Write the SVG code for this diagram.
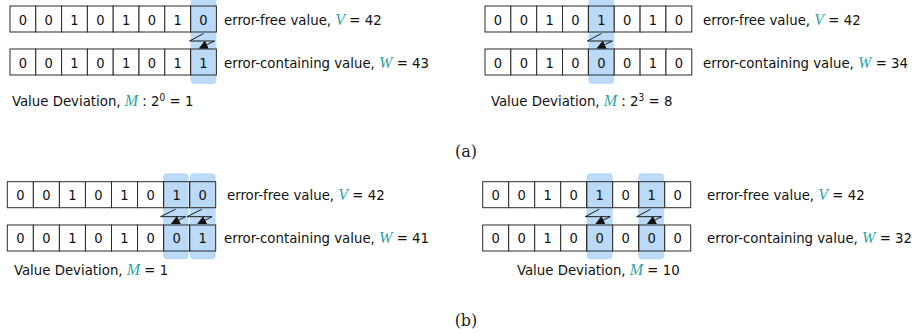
<svg xmlns="http://www.w3.org/2000/svg" width="922" height="334" viewBox="0 0 922 334">
<style>
.cell{fill:#fff;stroke:#2b2b2b;stroke-width:1}
.on{fill:none}
.hl{fill:#bbdaf7;stroke:none}
.d{font-family:"DejaVu Sans Condensed","DejaVu Sans",sans-serif;font-size:14.5px;fill:#111;text-anchor:middle}
.t{font-family:"DejaVu Sans Condensed","DejaVu Sans",sans-serif;font-size:14.8px;fill:#111}
.v{font-family:"Liberation Serif",serif;font-style:italic;font-size:16px;fill:#2fa4a4}
.cap{font-family:"DejaVu Serif",serif;font-size:16px;fill:#222;text-anchor:middle}
.z{fill:none;stroke:#1a1a1a;stroke-width:1;marker-end:url(#ah)}
</style>
<defs>
<marker id="ah" viewBox="0 0 10 10" refX="9" refY="5" markerWidth="9" markerHeight="9" markerUnits="userSpaceOnUse" orient="auto">
<path d="M0,0 L10,5 L0,10 z" fill="#111"/>
</marker>
</defs>

<!-- highlights (behind cells) -->
<rect id="a-left-hl" class="hl" x="190.6" y="-4" width="25.8" height="88" rx="4"/>
<rect id="a-right-hl" class="hl" x="588.4" y="-4" width="25.85" height="88" rx="4"/>
<rect id="b-left-hl1" class="hl" x="163.1" y="173.3" width="25.5" height="86" rx="4"/>
<rect id="b-left-hl2" class="hl" x="189.9" y="173.3" width="25.8" height="86" rx="4"/>
<rect id="b-right-hl1" class="hl" x="586.7" y="173.3" width="26" height="86" rx="4"/>
<rect id="b-right-hl2" class="hl" x="638.2" y="173.3" width="26" height="86" rx="4"/>

<!-- (a) left -->
<g id="a-left-free">
<rect class="cell" x="10" y="6" width="25.8" height="26"/><rect class="cell" x="35.8" y="6" width="25.8" height="26"/><rect class="cell" x="61.6" y="6" width="25.8" height="26"/><rect class="cell" x="87.4" y="6" width="25.8" height="26"/><rect class="cell" x="113.2" y="6" width="25.8" height="26"/><rect class="cell" x="139" y="6" width="25.8" height="26"/><rect class="cell" x="164.8" y="6" width="25.8" height="26"/><rect class="cell on" x="190.6" y="6" width="25.8" height="26"/>
<text class="d" y="24.5"><tspan x="22.9">0</tspan><tspan x="48.7">0</tspan><tspan x="74.5">1</tspan><tspan x="100.3">0</tspan><tspan x="126.1">1</tspan><tspan x="151.9">0</tspan><tspan x="177.7">1</tspan><tspan x="203.5">0</tspan></text>
<text class="t" x="224" y="24.5">error-free value, <tspan class="v">V</tspan> = 42</text>
</g>
<g id="a-left-err">
<rect class="cell" x="10" y="49" width="25.8" height="26"/><rect class="cell" x="35.8" y="49" width="25.8" height="26"/><rect class="cell" x="61.6" y="49" width="25.8" height="26"/><rect class="cell" x="87.4" y="49" width="25.8" height="26"/><rect class="cell" x="113.2" y="49" width="25.8" height="26"/><rect class="cell" x="139" y="49" width="25.8" height="26"/><rect class="cell" x="164.8" y="49" width="25.8" height="26"/><rect class="cell on" x="190.6" y="49" width="25.8" height="26"/>
<text class="d" y="67.5"><tspan x="22.9">0</tspan><tspan x="48.7">0</tspan><tspan x="74.5">1</tspan><tspan x="100.3">0</tspan><tspan x="126.1">1</tspan><tspan x="151.9">0</tspan><tspan x="177.7">1</tspan><tspan x="203.5">1</tspan></text>
<text class="t" x="224" y="67.5">error-containing value, <tspan class="v">W</tspan> = 43</text>
</g>
<text id="a-left-dev" class="t" x="12" y="106">Value Deviation, <tspan class="v">M</tspan> : 2<tspan font-size="10" dy="-5">0</tspan><tspan dy="5"> = 1</tspan></text>

<!-- (a) right -->
<g id="a-right-free">
<rect class="cell" x="485" y="6" width="25.85" height="26"/><rect class="cell" x="510.85" y="6" width="25.85" height="26"/><rect class="cell" x="536.7" y="6" width="25.85" height="26"/><rect class="cell" x="562.55" y="6" width="25.85" height="26"/><rect class="cell on" x="588.4" y="6" width="25.85" height="26"/><rect class="cell" x="614.25" y="6" width="25.85" height="26"/><rect class="cell" x="640.1" y="6" width="25.85" height="26"/><rect class="cell" x="665.95" y="6" width="25.85" height="26"/>
<text class="d" y="24.5"><tspan x="497.9">0</tspan><tspan x="523.8">0</tspan><tspan x="549.6">1</tspan><tspan x="575.5">0</tspan><tspan x="601.3">1</tspan><tspan x="627.2">0</tspan><tspan x="653">1</tspan><tspan x="678.9">0</tspan></text>
<text class="t" x="703" y="24.5">error-free value, <tspan class="v">V</tspan> = 42</text>
</g>
<g id="a-right-err">
<rect class="cell" x="485" y="49" width="25.85" height="26"/><rect class="cell" x="510.85" y="49" width="25.85" height="26"/><rect class="cell" x="536.7" y="49" width="25.85" height="26"/><rect class="cell" x="562.55" y="49" width="25.85" height="26"/><rect class="cell on" x="588.4" y="49" width="25.85" height="26"/><rect class="cell" x="614.25" y="49" width="25.85" height="26"/><rect class="cell" x="640.1" y="49" width="25.85" height="26"/><rect class="cell" x="665.95" y="49" width="25.85" height="26"/>
<text class="d" y="67.5"><tspan x="497.9">0</tspan><tspan x="523.8">0</tspan><tspan x="549.6">1</tspan><tspan x="575.5">0</tspan><tspan x="601.3">0</tspan><tspan x="627.2">0</tspan><tspan x="653">1</tspan><tspan x="678.9">0</tspan></text>
<text class="t" x="703" y="67.5">error-containing value, <tspan class="v">W</tspan> = 34</text>
</g>
<text id="a-right-dev" class="t" x="491" y="106">Value Deviation, <tspan class="v">M</tspan> : 2<tspan font-size="10" dy="-5">3</tspan><tspan dy="5"> = 8</tspan></text>

<text id="cap-a" class="cap" x="466" y="157">(a)</text>

<!-- (b) left -->
<g id="b-left-free">
<rect class="cell" x="7.3" y="181.7" width="26.05" height="26"/><rect class="cell" x="33.35" y="181.7" width="26.05" height="26"/><rect class="cell" x="59.4" y="181.7" width="26.05" height="26"/><rect class="cell" x="85.45" y="181.7" width="26.05" height="26"/><rect class="cell" x="111.5" y="181.7" width="26.05" height="26"/><rect class="cell" x="137.55" y="181.7" width="26.05" height="26"/><rect class="cell on" x="163.6" y="181.7" width="26.05" height="26"/><rect class="cell on" x="189.65" y="181.7" width="26.05" height="26"/>
<text class="d" y="200"><tspan x="20.3">0</tspan><tspan x="46.4">0</tspan><tspan x="72.4">1</tspan><tspan x="98.5">0</tspan><tspan x="124.5">1</tspan><tspan x="150.6">0</tspan><tspan x="176.6">1</tspan><tspan x="202.7">0</tspan></text>
<text class="t" x="227" y="200">error-free value, <tspan class="v">V</tspan> = 42</text>
</g>
<g id="b-left-err">
<rect class="cell" x="7.3" y="225" width="26.05" height="26"/><rect class="cell" x="33.35" y="225" width="26.05" height="26"/><rect class="cell" x="59.4" y="225" width="26.05" height="26"/><rect class="cell" x="85.45" y="225" width="26.05" height="26"/><rect class="cell" x="111.5" y="225" width="26.05" height="26"/><rect class="cell" x="137.55" y="225" width="26.05" height="26"/><rect class="cell on" x="163.6" y="225" width="26.05" height="26"/><rect class="cell on" x="189.65" y="225" width="26.05" height="26"/>
<text class="d" y="243.3"><tspan x="20.3">0</tspan><tspan x="46.4">0</tspan><tspan x="72.4">1</tspan><tspan x="98.5">0</tspan><tspan x="124.5">1</tspan><tspan x="150.6">0</tspan><tspan x="176.6">0</tspan><tspan x="202.7">1</tspan></text>
<text class="t" x="224" y="243.3">error-containing value, <tspan class="v">W</tspan> =  41</text>
</g>
<text id="b-left-dev" class="t" x="14" y="275">Value Deviation, <tspan class="v">M</tspan> = 1</text>

<!-- (b) right -->
<g id="b-right-free">
<rect class="cell" x="482.7" y="181.7" width="26" height="26"/><rect class="cell" x="508.7" y="181.7" width="26" height="26"/><rect class="cell" x="534.7" y="181.7" width="26" height="26"/><rect class="cell" x="560.7" y="181.7" width="26" height="26"/><rect class="cell on" x="586.7" y="181.7" width="26" height="26"/><rect class="cell" x="612.7" y="181.7" width="26" height="26"/><rect class="cell on" x="638.7" y="181.7" width="26" height="26"/><rect class="cell" x="664.7" y="181.7" width="26" height="26"/>
<text class="d" y="200"><tspan x="495.7">0</tspan><tspan x="521.7">0</tspan><tspan x="547.7">1</tspan><tspan x="573.7">0</tspan><tspan x="599.7">1</tspan><tspan x="625.7">0</tspan><tspan x="651.7">1</tspan><tspan x="677.7">0</tspan></text>
<text class="t" x="707" y="200">error-free value, <tspan class="v">V</tspan> = 42</text>
</g>
<g id="b-right-err">
<rect class="cell" x="482.7" y="225" width="26" height="26"/><rect class="cell" x="508.7" y="225" width="26" height="26"/><rect class="cell" x="534.7" y="225" width="26" height="26"/><rect class="cell" x="560.7" y="225" width="26" height="26"/><rect class="cell on" x="586.7" y="225" width="26" height="26"/><rect class="cell" x="612.7" y="225" width="26" height="26"/><rect class="cell on" x="638.7" y="225" width="26" height="26"/><rect class="cell" x="664.7" y="225" width="26" height="26"/>
<text class="d" y="243.3"><tspan x="495.7">0</tspan><tspan x="521.7">0</tspan><tspan x="547.7">1</tspan><tspan x="573.7">0</tspan><tspan x="599.7">0</tspan><tspan x="625.7">0</tspan><tspan x="651.7">0</tspan><tspan x="677.7">0</tspan></text>
<text class="t" x="707" y="243.3">error-containing value, <tspan class="v">W</tspan> =  32</text>
</g>
<text id="b-right-dev" class="t" x="517" y="275">Value Deviation, <tspan class="v">M</tspan> = 10</text>

<text id="cap-b" class="cap" x="466" y="326">(b)</text>

<g id="connectors">
<path class="z" d="M203.6,33.5 L189.6,41 L214.6,41 L199.6,48"/>
<path class="z" d="M601.4,33.5 L587.4,41 L612.4,41 L597.4,48"/>
<path class="z" d="M175.6,209.2 L160.6,216.7 L185.6,216.7 L171.6,223.7"/>
<path class="z" d="M202,209.2 L187,216.7 L212,216.7 L198,223.7"/>
<path class="z" d="M599.2,209.2 L585.2,216.7 L610.2,216.7 L596.2,223.7"/>
<path class="z" d="M650.7,209.2 L636.7,216.7 L661.7,216.7 L647.7,223.7"/>
</g>
</svg>
